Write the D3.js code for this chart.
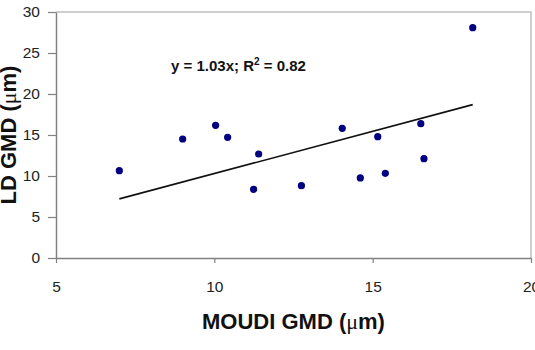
<!DOCTYPE html>
<html>
<head>
<meta charset="utf-8">
<script src="https://cdn.jsdelivr.net/npm/d3@7"></script>
<style>
  html, body { margin: 0; padding: 0; background: #fff; }
  svg { display: block; }
  text { font-family: "Liberation Sans", Arial, sans-serif; }
</style>
</head>
<body>
<svg id="chart" width="535" height="350"></svg>
<script>
// Data
const moudiGMD = [7.0, 9.0, 10.04, 10.42, 11.4, 11.24, 12.75, 14.04, 14.61, 15.16, 15.4, 16.52, 16.62, 18.16];
const ldGMD    = [10.65, 14.51, 16.18, 14.72, 12.68, 8.38, 8.82, 15.82, 9.76, 14.79, 10.33, 16.38, 12.11, 28.09];
const slope = 1.03;
const xTicks = [5, 10, 15, 20];
const yTicks = [0, 5, 10, 15, 20, 25, 30];
const fitLabel = "y = 1.03x; R";
const fitLabelSup = "2";
const fitLabelEnd = " = 0.82";

const svg = d3.select("#chart");
const mLeft = 56, mRight = 531, mTop = 12, mBottom = 258;

const x = d3.scaleLinear().domain([5, 20]).range([mLeft, mRight]);
const y = d3.scaleLinear().domain([0, 30]).range([mBottom, mTop]);

// top/right frame
svg.append("path")
  .attr("d", `M${mLeft},${mTop}H${mRight}V${mBottom}`)
  .attr("fill", "none").attr("stroke", "#c0c0c0").attr("stroke-width", 1.5);

const xAxis = svg.append("g").attr("transform", `translate(0,${mBottom})`)
  .call(d3.axisBottom(x).tickValues(xTicks).tickSize(5).tickSizeOuter(0).tickPadding(18));
const yAxis = svg.append("g").attr("transform", `translate(${mLeft},0)`)
  .call(d3.axisLeft(y).tickValues(yTicks).tickSize(8).tickSizeOuter(0).tickPadding(8));

[xAxis, yAxis].forEach(g => {
  g.select(".domain").attr("stroke", "#808080").attr("stroke-width", 1.5);
  g.selectAll(".tick line").attr("stroke", "#808080").attr("stroke-width", 1.2);
  g.selectAll(".tick text").attr("fill", "#222").style("font-size", "15.5px")
    .style("font-family", '"Liberation Sans", Arial, sans-serif');
});

// trend line
const xmin = d3.min(moudiGMD), xmax = d3.max(moudiGMD);
svg.append("line")
  .attr("x1", x(xmin)).attr("y1", y(slope * xmin))
  .attr("x2", x(xmax)).attr("y2", y(slope * xmax))
  .attr("stroke", "#111").attr("stroke-width", 1.6);

// points
svg.append("g").selectAll("circle")
  .data(moudiGMD.map((v, i) => [v, ldGMD[i]]))
  .join("circle")
  .attr("cx", d => x(d[0])).attr("cy", d => y(d[1]))
  .attr("r", 3.6).attr("fill", "#000080");

// fit annotation
const ann = svg.append("text").attr("x", 171).attr("y", 71)
  .attr("font-weight", "bold").attr("font-size", 15).attr("fill", "#111");
ann.append("tspan").text(fitLabel);
ann.append("tspan").attr("dy", -6).attr("font-size", 10).text(fitLabelSup);
ann.append("tspan").attr("dy", 6).text(fitLabelEnd);

// axis titles
const xt = svg.append("text").attr("x", (mLeft + mRight) / 2).attr("y", 329)
  .attr("text-anchor", "middle").attr("font-weight", "bold").attr("font-size", 22).attr("fill", "#111");
xt.append("tspan").text("MOUDI GMD (");
xt.append("tspan").attr("font-family", '"Liberation Serif", serif').attr("font-weight", "normal").text("μ");
xt.append("tspan").text("m)");

const yt = svg.append("text").attr("transform", `translate(16,${(mTop + mBottom) / 2}) rotate(-90)`)
  .attr("text-anchor", "middle").attr("font-weight", "bold").attr("font-size", 22).attr("fill", "#111");
yt.append("tspan").text("LD GMD (");
yt.append("tspan").attr("font-family", '"Liberation Serif", serif').attr("font-weight", "normal").text("μ");
yt.append("tspan").text("m)");
</script>
</body>
</html>
